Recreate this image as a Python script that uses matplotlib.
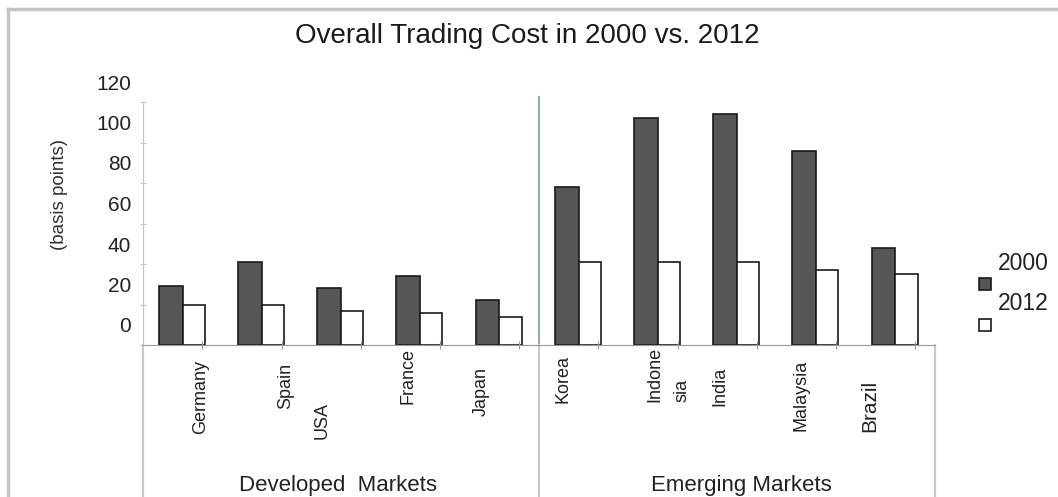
import numpy as np
import matplotlib
matplotlib.use("Agg")
import matplotlib.pyplot as plt
import matplotlib.transforms as mtransforms
from matplotlib.patches import Rectangle
from matplotlib.lines import Line2D

plt.rcParams['font.family'] = ['Liberation Sans', 'DejaVu Sans']

# trading cost in basis points
countries = ["Germany", "Spain", "USA", "France", "Japan",
             "Korea", "Indone\nsia", "India", "Malaysia", "Brazil"]
cost_2000 = [29, 41, 28, 34, 22, 78, 112, 114, 96, 48]
cost_2012 = [20, 20, 17, 16, 14, 41, 41, 41, 37, 35]
groups = ["Developed  Markets", "Emerging Markets"]
years = ["2000", "2012"]
yticks = [0, 20, 40, 60, 80, 100, 120]

# hand placement of the rotated country names (x offset in categories, px below the baseline)
name_dx = [0.23, 0.30, -0.24, -0.15, -0.23, -0.20, 0.13, -0.21, -0.19, -0.33]
name_top = [15, 18, 57, 3, 22, 10, 2, 22, 15, 35]
name_size = [13] * 9 + [15]

fig = plt.figure(figsize=(10.58, 4.97), dpi=100)
ax = fig.add_axes([143 / 1058, 1 - 345 / 497, (935 - 143) / 1058, (345 - 102) / 497])

x = np.arange(len(countries))
ax.bar(x - 0.3, cost_2000, width=0.3, align='edge', color='#565656',
       edgecolor='#1a1a1a', linewidth=1.2)
ax.bar(x, cost_2012, width=0.28, align='edge', color='white',
       edgecolor='#1a1a1a', linewidth=1.2)

ax.set_xlim(-0.5, 9.5)
ax.set_ylim(0, 120)

for s in ['top', 'right']:
    ax.spines[s].set_visible(False)
ax.spines['left'].set_color('#c4c4c4')
ax.spines['bottom'].set_color('#9a9a9a')

# y labels sit half a step above their ticks
ax.set_yticks(yticks)
ax.set_yticklabels([str(v) for v in yticks], fontsize=15, color='#222222')
ax.tick_params(axis='y', direction='inout', length=5, color='#c4c4c4', pad=6)
shift = mtransforms.ScaledTranslation(0, 20 / 100, fig.dpi_scale_trans)
for lab in ax.get_yticklabels():
    lab.set_transform(lab.get_transform() + shift)

ax.set_xticks(x + 0.25)
ax.set_xticklabels([])
ax.tick_params(axis='x', direction='inout', length=6, color='#9a9a9a')

ax.set_ylabel("(basis points)", fontsize=13.5, color='#333333')
ax.yaxis.set_label_coords(-0.095, 0.62)

# divider between the two market groups
ax.axvline(4.5, ymin=0, ymax=1.02, color='#9eaab2', linewidth=1.5, clip_on=False)
below = ax.get_xaxis_transform()
for xv in [-0.5, 4.5, 9.5]:
    ax.add_line(Line2D([xv, xv], [0, -0.7], transform=below, color='#c8c8c8',
                       linewidth=1.5, clip_on=False))

for i, name in enumerate(countries):
    off = mtransforms.ScaledTranslation(0, -name_top[i] / 100, fig.dpi_scale_trans)
    ax.text(i + name_dx[i], 0, name, transform=below + off, rotation=90,
            ha='center', va='top', fontsize=name_size[i], color='#222222',
            multialignment='left', linespacing=1.8)

fig.text(338 / 1058, 1 - 486 / 497, groups[0], ha='center', va='center',
         fontsize=16, color='#222222')
fig.text(741 / 1058, 1 - 486 / 497, groups[1], ha='center', va='center',
         fontsize=16, color='#222222')

fig.text(527 / 1058, 1 - 36 / 497, "Overall Trading Cost in 2000 vs. 2012",
         ha='center', va='center', fontsize=20, color='#1a1a1a')

# legend with markers below and to the left of the labels
leg_face = ['#565656', 'white']
for k, (yr, yl, ym) in enumerate(zip(years, [264, 304], [284, 325])):
    fig.patches.append(Rectangle(((985 - 6) / 1058, 1 - (ym + 6) / 497), 12 / 1058, 12 / 497,
                                 transform=fig.transFigure, facecolor=leg_face[k],
                                 edgecolor='#1a1a1a', linewidth=1.2))
    fig.text(998 / 1058, 1 - yl / 497, yr, ha='left', va='center', fontsize=16.5,
             color='#222222')

# outer frame, top and left edges only
fig.add_artist(Line2D([8 / 1058, 1], [1 - 9 / 497, 1 - 9 / 497], transform=fig.transFigure,
                      color='#c4c4c4', linewidth=2.5))
fig.add_artist(Line2D([8 / 1058, 8 / 1058], [0, 1 - 9 / 497], transform=fig.transFigure,
                      color='#c4c4c4', linewidth=2.5))

fig.savefig("out.png", dpi=100)
